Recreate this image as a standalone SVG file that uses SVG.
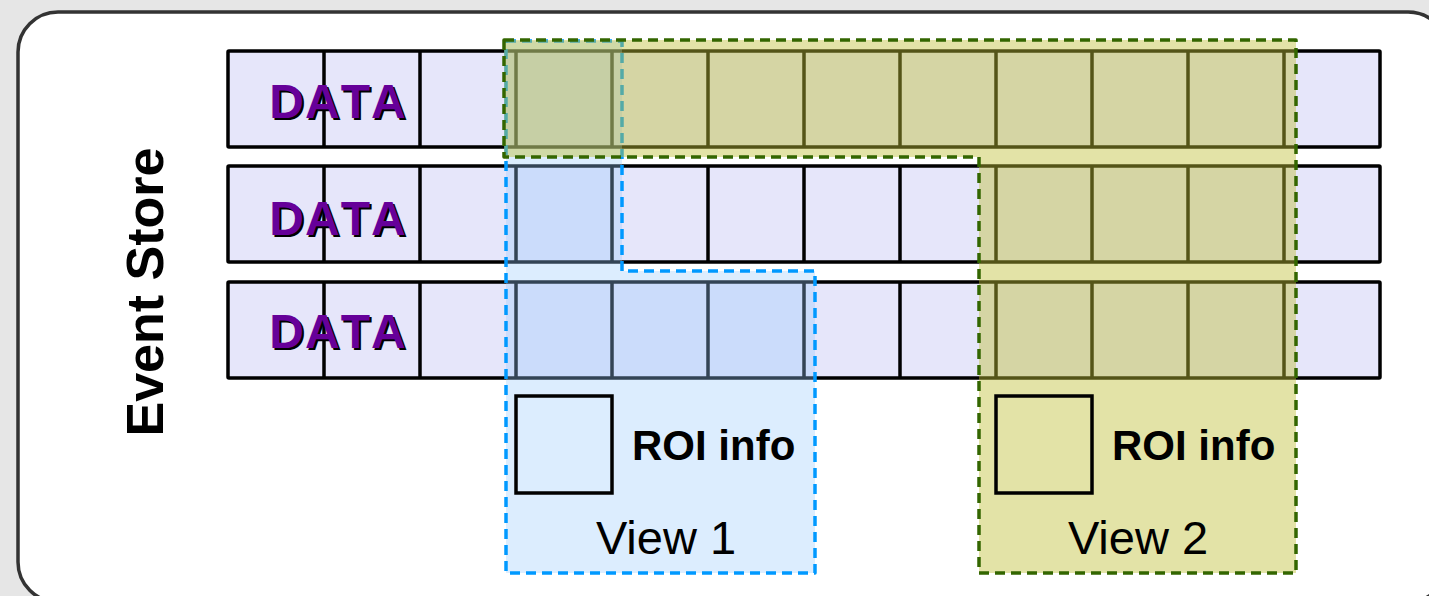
<svg xmlns="http://www.w3.org/2000/svg" width="1429" height="596" viewBox="0 0 1429 596">
  <style>
    .row { fill: #e6e6fa; stroke: #000; stroke-width: 3.5; }
    .div { stroke: #000; stroke-width: 3.5; }
    .data { font-family: "Liberation Sans", Arial, sans-serif; font-weight: bold; font-size: 48px; text-anchor: middle; font-kerning: none; letter-spacing: 1px; }
    .data-shadow { fill: #000; }
    .data-main { fill: #660099; }
    .roi { fill: none; stroke: #000; stroke-width: 3.5; }
    .roi-text { font-family: "Liberation Sans", Arial, sans-serif; font-weight: bold; font-size: 42px; fill: #000; }
    .view-text { font-family: "Liberation Sans", Arial, sans-serif; font-size: 47px; fill: #000; text-anchor: middle; }
    .title { font-family: "Liberation Sans", Arial, sans-serif; font-weight: bold; font-size: 52px; fill: #000; text-anchor: middle; }
  </style>
  <rect x="0" y="0" width="1429" height="596" fill="#e6e6e6"/>
  <g id="event-store">
    <rect x="18" y="12" width="1430" height="590" rx="40" ry="40" fill="#ffffff" stroke="#333333" stroke-width="3.5"/>
    <text class="title" transform="translate(163,292) rotate(-90)">Event Store</text>
  </g>

  <g id="row-1">
    <rect class="row" x="228" y="51" width="1152" height="96" rx="1"/>
    <path class="div" d="M324 51V147M420 51V147M516 51V147M612 51V147M708 51V147M804 51V147M900 51V147M996 51V147M1092 51V147M1188 51V147M1284 51V147"/>
    <text class="data data-shadow" x="340" y="120">DATA</text>
    <text class="data data-main" x="338" y="118">DATA</text>
  </g>
  <g id="row-2">
    <rect class="row" x="228" y="166" width="1152" height="96" rx="1"/>
    <path class="div" d="M324 166V262M420 166V262M516 166V262M612 166V262M708 166V262M804 166V262M900 166V262M996 166V262M1092 166V262M1188 166V262M1284 166V262"/>
    <text class="data data-shadow" x="340" y="237">DATA</text>
    <text class="data data-main" x="338" y="235">DATA</text>
  </g>
  <g id="row-3">
    <rect class="row" x="228" y="282" width="1152" height="96" rx="1"/>
    <path class="div" d="M324 282V378M420 282V378M516 282V378M612 282V378M708 282V378M804 282V378M900 282V378M996 282V378M1092 282V378M1188 282V378M1284 282V378"/>
    <text class="data data-shadow" x="340" y="350">DATA</text>
    <text class="data data-main" x="338" y="348">DATA</text>
  </g>

  <g id="view-1">
    <path d="M506 41H622V271H815V573H506Z" fill="#97cafc" fill-opacity="0.337" stroke="#0099ff" stroke-width="3.5" stroke-dasharray="10 6" stroke-linejoin="round"/>
  </g>
  <g id="view-2">
    <path d="M504 40H1296V573H979V157H504Z" fill="#bfbf37" fill-opacity="0.44" stroke="#336600" stroke-width="3.5" stroke-dasharray="10 6" stroke-linejoin="round"/>
  </g>

  <g id="view-1-labels">
    <rect class="roi" x="516" y="396" width="96" height="97"/>
    <text class="roi-text" x="632" y="460">ROI info</text>
    <text class="view-text" x="666" y="554">View 1</text>
  </g>
  <g id="view-2-labels">
    <rect class="roi" x="996" y="396" width="96" height="97"/>
    <text class="roi-text" x="1112" y="460">ROI info</text>
    <text class="view-text" x="1138" y="554">View 2</text>
  </g>

  <g id="connectors"/>
</svg>
